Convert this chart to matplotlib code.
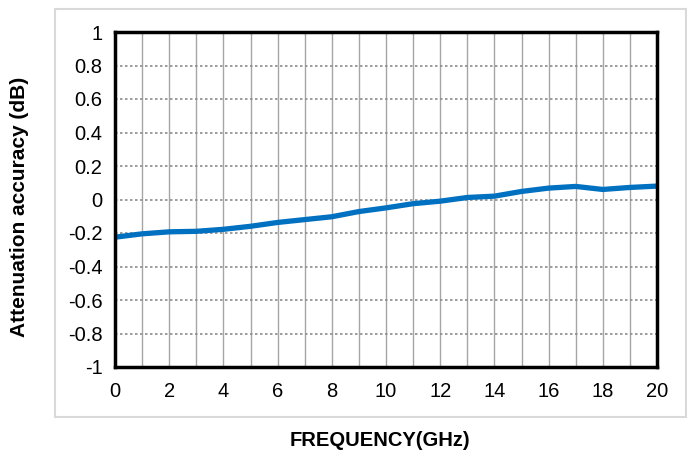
import matplotlib
matplotlib.use("Agg")
from matplotlib import pyplot as plt
from matplotlib.patches import Rectangle
import numpy as np

plt.rcParams['font.family'] = ['Liberation Sans', 'DejaVu Sans']

freq_ghz = list(range(0, 21))
accuracy_db = [-0.225, -0.205, -0.193, -0.19, -0.178, -0.16, -0.137, -0.12, -0.103,
               -0.072, -0.05, -0.025, -0.01, 0.012, 0.02, 0.048, 0.068, 0.078,
               0.06, 0.072, 0.08]

fig = plt.figure(figsize=(6.87, 4.54), dpi=100)
ax = fig.add_axes([115 / 687, 1 - 367 / 454, (657 - 115) / 687, (367 - 32) / 454])

# light outer frame around the chart
fig.patches.append(Rectangle((55 / 687, 1 - 417 / 454), (686 - 55) / 687, (417 - 9) / 454,
                             transform=fig.transFigure, fill=False,
                             edgecolor='#d9d9d9', linewidth=1.5))

ax.plot(freq_ghz, accuracy_db, color='#0070c0', linewidth=3.8,
        solid_capstyle='butt', solid_joinstyle='round')

ax.set_xlim(0, 20)
ax.set_ylim(-1, 1)
ax.set_xticks(np.arange(0, 21, 2))
ax.set_yticks(np.round(np.arange(-1, 1.01, 0.2), 1))
ax.set_yticklabels(['-1', '-0.8', '-0.6', '-0.4', '-0.2', '0', '0.2', '0.4', '0.6', '0.8', '1'])
ax.set_xticks(np.arange(0, 21, 1), minor=True)
ax.grid(True, which='minor', axis='x', color='#a6a6a6', linewidth=1)
ax.grid(True, which='major', axis='x', color='#a6a6a6', linewidth=1)
ax.grid(True, which='major', axis='y', color='#8c8c8c', linewidth=1.2, linestyle=(0, (1.5, 1.5)))
ax.tick_params(which='both', length=0, labelsize=14.5)
ax.tick_params(axis='x', pad=11)
ax.tick_params(axis='y', pad=9)

for s in ax.spines.values():
    s.set_linewidth(2.5)
    s.set_color('black')

fig.text(20 / 687, 1 - 207 / 454, 'Attenuation accuracy (dB)', fontsize=15,
         fontweight='bold', rotation=90, ha='center', va='center')
fig.text(380 / 687, 1 - 440 / 454, 'FREQUENCY(GHz)', fontsize=14.5, fontweight='bold',
         ha='center', va='center')

fig.savefig('out.png', dpi=100)
